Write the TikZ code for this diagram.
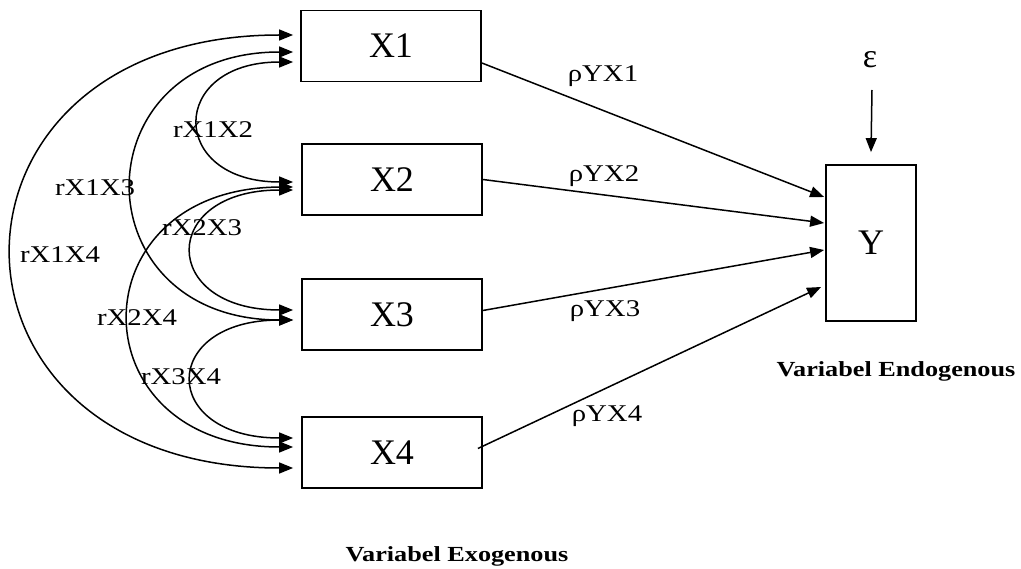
\documentclass[tikz,border=0pt]{standalone}
\usepackage{fontspec}
\setmainfont{Liberation Serif}
\newfontfamily\lab[FakeStretch=1.2]{Liberation Serif}
\newfontfamily\blab[FakeStretch=1.22]{Liberation Serif}
\usetikzlibrary{arrows.meta}
\begin{document}
\begin{tikzpicture}[x=1pt,y=-1pt,
  box/.style={draw,line width=1.8pt,minimum width=180pt,minimum height=71pt,inner sep=0pt,font=\fontsize{36}{40}\selectfont},
  ybox/.style={draw,line width=1.8pt,minimum width=90pt,minimum height=156pt,inner sep=0pt,font=\fontsize{36}{40}\selectfont},
  tip/.style={-{Triangle[length=14pt,width=11pt]},line width=1.5pt},
  corr/.style={{Triangle[length=14pt,width=11pt]}-{Triangle[length=14pt,width=11pt]},line width=1.5pt},
  lbl/.style={font=\lab\fontsize{24}{26}\selectfont,inner sep=0pt},
  blbl/.style={font=\blab\bfseries\fontsize{21.5}{24}\selectfont,inner sep=0pt}]
\useasboundingbox (0,0) rectangle (1021,569);
% boxes
\node[box] (X1) at (391,46) {X1};
\node[box] (X2) at (392,179.5) {X2};
\node[box] (X3) at (392,314.5) {X3};
\node[box] (X4) at (392,452.5) {X4};
\node[ybox] (Y) at (871,243) {Y};
% epsilon
\node[inner sep=0pt,font=\fontsize{34}{36}\selectfont] (eps) at (870,60) {ε};
\coordinate (epsA) at (872,90);
\draw[tip] (epsA) -- ([yshift=12pt]Y.north);
% paths to Y
\draw[tip] ([yshift=-17pt]X1.east) -- ([yshift=46pt,xshift=-1pt]Y.west);
\draw[tip] (X2.east) -- ([yshift=20pt,xshift=-1pt]Y.west);
\draw[tip] ([yshift=4pt]X3.east) -- ([yshift=-7pt,xshift=-1pt]Y.west);
\draw[tip] ([yshift=4pt,xshift=-5pt]X4.east) -- ([yshift=-44pt,xshift=-4pt]Y.west);
\node[lbl] (p1) at (603,76) {ρYX1};
\node[lbl] (p2) at (604,176) {ρYX2};
\node[lbl] (p3) at (605,311) {ρYX3};
\node[lbl] (p4) at (607,416) {ρYX4};
% correlations
\draw[corr] ([xshift=-7pt,yshift=11pt]X1.west) .. controls (-81,35) and (-81,468) .. ([xshift=-8pt,yshift=-15.5pt]X4.west);
\draw[corr] ([xshift=-7pt,yshift=-6pt]X1.west) .. controls (79,52) and (79,320) .. ([xshift=-8pt,yshift=-5.5pt]X3.west);
\draw[corr] ([xshift=-7pt,yshift=-16pt]X1.west) .. controls (168,62) and (168,182) .. ([xshift=-8pt,yshift=-2.5pt]X2.west);
\draw[corr] ([xshift=-8pt,yshift=-10.5pt]X2.west) .. controls (159,190) and (159,310) .. ([xshift=-8pt,yshift=4.5pt]X3.west);
\draw[corr] ([xshift=-8pt,yshift=-7.5pt]X2.west) .. controls (75,188) and (75,447) .. ([xshift=-8pt,yshift=5.5pt]X4.west);
\draw[corr] ([xshift=-8pt,yshift=-5.5pt]X3.west) .. controls (159,320) and (159,438) .. ([xshift=-8pt,yshift=14.5pt]X4.west);
\node[lbl] (r12) at (213,130) {rX1X2};
\node[lbl] (r13) at (95,188) {rX1X3};
\node[lbl] (r23) at (202,228) {rX2X3};
\node[lbl] (r14) at (60,255) {rX1X4};
\node[lbl] (r24) at (137,318) {rX2X4};
\node[lbl] (r34) at (181,377) {rX3X4};
% titles
\node[blbl] (endo) at (896,371) {Variabel Endogenous};
\node[blbl] (exo) at (457,556) {Variabel Exogenous};
\end{tikzpicture}
\end{document}
